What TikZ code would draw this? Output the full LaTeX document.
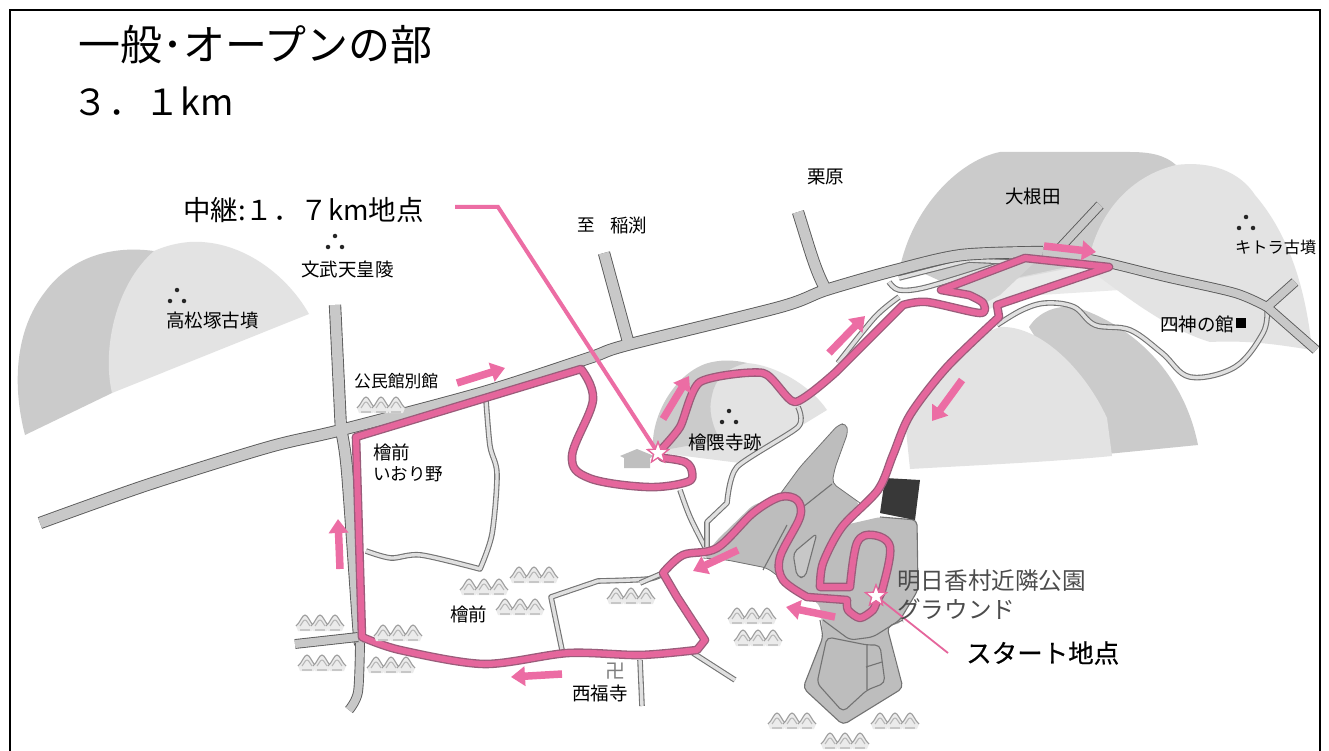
\documentclass[tikz,border=0pt]{standalone}
\usepackage{fontspec}
\setmainfont{Noto Sans CJK JP}
\newfontfamily\medfont[FakeBold=0.5]{Noto Sans CJK JP}
\usetikzlibrary{arrows.meta,shapes.geometric}
\definecolor{hilldark}{HTML}{CBCBCB}
\definecolor{hilllight}{HTML}{E3E3E3}
\definecolor{roadfill}{HTML}{C8C8C8}
\definecolor{roadedge}{HTML}{5A5A5A}
\definecolor{parkfill}{HTML}{BDBDBD}
\definecolor{rpink}{HTML}{E5669C}
\definecolor{rdark}{HTML}{9A5C7A}
\definecolor{apink}{HTML}{EC6DA4}
\tikzset{
 bigroad/.style={draw=roadedge,line width=.9pt,double=roadfill,double distance=10.5pt,line cap=butt,line join=round},
 midroad/.style={draw=roadedge,line width=.9pt,double=roadfill,double distance=8pt,line cap=butt,line join=round},
 thinroad/.style={draw=black!55,line width=1.1pt,double=black!12,double distance=3.4pt,line join=round},
 routeback/.style={draw=rdark,line width=8.6pt,line join=round,line cap=round},
 routefront/.style={draw=rpink,line width=6pt,line join=round,line cap=round},
 dirarrow/.style={draw=apink,line width=7.5pt,-{Triangle[length=14pt,width=19pt]}},
 leader/.style={draw=apink,line width=4pt},
 lbl/.style={font=\fontsize{18.5}{22}\selectfont,text=black,inner sep=0pt},
 startstar/.style={star,star points=5,star point ratio=2.4,draw=rpink,fill=white,line width=1.2pt,minimum size=22pt,inner sep=0pt},
 parkline/.style={draw=black!55,line width=1.1pt,line join=round,rounded corners=5pt},
 hs/.style={draw=black!38,line width=1.1pt},
 onedot/.style={circle,fill=black!85,minimum size=4.5pt,inner sep=0pt},
 houses/.pic={
  \foreach \d in {-15,0,15}{
   \fill[black!8] (\d-9,4) .. controls (\d-5,1) and (\d-3,-7) .. (\d,-7) .. controls (\d+3,-7) and (\d+5,1) .. (\d+9,4) -- (\d+7,9) -- (\d-7,9) -- cycle;
   \draw[hs] (\d-9,4) .. controls (\d-5,1) and (\d-3,-7) .. (\d,-7) .. controls (\d+3,-7) and (\d+5,1) .. (\d+9,4);
   \draw[hs,black!28] (\d-5,4) .. controls (\d-3,2) and (\d-2,-2) .. (\d,-2) .. controls (\d+2,-2) and (\d+3,2) .. (\d+5,4);
   \draw[hs,black!22,line width=1.8pt] (\d-5,8) -- (\d+5,8);
  }
 },
 tomb/.pic={
  \node[onedot] at (0,-6) {};
  \node[onedot] at (-7,5) {};
  \node[onedot] at (7,5) {};
 }
}
\begin{document}
\begin{tikzpicture}[x=1pt,y=-1pt]
\useasboundingbox (0,0) rectangle (1329,751);
\fill[white] (0,0) rectangle (1329,751);
% hills
\fill[hilldark] (25,435) .. controls (12,385) and (15,330) .. (45,292) .. controls (70,258) and (110,245) .. (154,251) -- (200,300) -- (112,393) -- cycle;
\fill[hilllight] (112,393) .. controls (102,350) and (115,285) .. (154,251) .. controls (172,243) and (190,241) .. (202,242) .. controls (250,245) and (290,280) .. (309,314) -- cycle;
\fill[hilldark] (901,263) .. controls (915,205) and (960,160) .. (1000,152) -- (1130,152) .. controls (1150,152) and (1165,155) .. (1176,165) -- (1110,260) -- (960,290) -- cycle;
\fill[hilllight] (1092,247) .. controls (1105,205) and (1135,175) .. (1176,165) .. controls (1200,162) and (1235,165) .. (1255,195) .. controls (1285,230) and (1305,280) .. (1312,350) .. controls (1280,345) and (1250,340) .. (1210,342) .. controls (1170,330) and (1130,300) .. (1090,270) -- cycle;
\fill[hilllight,opacity=.75] (960,290) -- (1090,262) -- (1120,290) -- (1040,295) -- (985,310) -- cycle;
\fill[hilldark] (1029,327) .. controls (1040,310) and (1060,304) .. (1078,308) .. controls (1130,325) and (1183,370) .. (1198,445) -- (1107,454) -- cycle;
\fill[hilllight] (906,430) .. controls (920,390) and (960,340) .. (1000,327) .. controls (1040,325) and (1085,370) .. (1107,418) -- (1112,456) .. controls (1050,462) and (980,465) .. (910,469) -- cycle;
\fill[hilllight] (653,452) -- (680,400) .. controls (695,372) and (725,362) .. (747,363) .. controls (775,365) and (810,385) .. (827,410) -- (740,463) -- cycle;
\fill[hilldark] (653,452) .. controls (650,415) and (675,375) .. (705,364) .. controls (720,359) and (735,360) .. (747,363) .. controls (725,368) and (715,380) .. (712,395) .. controls (708,410) and (712,425) .. (720,440) -- cycle;
% park
\fill[parkfill,rounded corners=5pt] (703,558) -- (717,540) -- (753,505) -- (778,497) -- (800,467) -- (838,425) -- (846,423) -- (848,432) -- (835,468) -- (832,483) -- (860,503) -- (845,525) -- (880,517) -- (917,520) -- (918,590) -- (900,620) -- (903,622) -- (887,627) -- (895,660) -- (903,688) -- (843,725) -- (803,688) -- (823,637) -- (820,605) -- (790,585) -- (767,568) -- (727,560) -- cycle;
\draw[parkline] (880,517) -- (917,520) -- (918,590) -- (900,620) -- (873,637) -- (850,640) -- (823,620);
\draw[parkline,line width=.8pt] (703,558) -- (727,560) -- (767,568) -- (790,585);
\draw[parkline,line width=.8pt] (778,497) -- (800,467) -- (838,425) -- (846,423) -- (848,432) -- (835,468) -- (832,483) -- (860,503);
\draw[parkline] (832,484) -- (803,507) (787,525) -- (763,570);
\draw[parkline,fill=parkfill!85!white] (817,533) -- (793,553) -- (797,577) -- (805,578) -- cycle;
\draw[parkline] (820,620) -- (823,637) -- (803,688) -- (843,725) -- (903,688) -- (887,627) -- (903,620);
\draw[parkline] (827,637) -- (817,683) -- (843,712) -- (867,690) -- (885,683) -- (880,645) -- (867,645) -- cycle;
\draw[parkline,rounded corners=0pt] (867,645) -- (867,690) (866,667) -- (882,662);
\fill[black!78] (885,478) -- (920,480) -- (915,520) -- (880,513) -- cycle;
% thin roads
\draw[thinroad] plot[smooth,tension=.5] coordinates {(486,400) (490,446) (497,474) (492,534) (480,569)} -- plot[smooth,tension=.5] coordinates {(480,569) (421,555) (391,558) (366,551)};
\draw[thinroad] plot[smooth,tension=.5] coordinates {(664,573) (648,579) (598,581)} -- (551,597) -- (562,650);
\draw[thinroad] plot[smooth,tension=.6] coordinates {(680,490) (690,517) (705,547)};
\draw[thinroad] plot[smooth,tension=.4] coordinates {(798,407) (798,427) (737,467) (727,503)} -- (707,522) -- (707,547);
\draw[thinroad] (693,653) -- (735,680);
\draw[thinroad] (640,660) -- (642,706);
\draw[thinroad] (640,583) -- (663,573);
\draw[thinroad] plot[smooth,tension=.6] coordinates {(997,325) (1022,310) (1046,303) (1074,307) (1095,325) (1130,330) (1162,353) (1190,377) (1235,367) (1263,333) (1267,310)};
\draw[thinroad] plot[smooth,tension=.5] coordinates {(838,363) (875,317) (899,297)};
\draw[thinroad] plot[smooth,tension=.5] coordinates {(889,282) (899,290) (927,287) (1008,262)};
\draw[thinroad] (899,278) -- (969,260) -- (1011,262);
\fill[hilldark!85!white] (941,290) -- (1025,258) -- (1035,262) -- (1000,295) -- (985,303) -- cycle;
% main roads
\draw[bigroad] plot[smooth,tension=.5] coordinates {(40,523) (147,485) (269,447) (341,430) (484,392) (589,358) (627,345) (780,307) (826,290) (896,270) (962,255) (1043,252)}
 (604,253) -- (629,345)
 (798,212) .. controls (810,250) and (815,270) .. (826,290)
 (335,305) -- (341,430)
 plot[smooth,tension=.5] coordinates {(341,430) (347,470) (358,622) (360,643)};
\draw[midroad] plot[smooth,tension=.5] coordinates {(1043,252) (1095,260) (1165,277) (1235,293) (1267,307)}
 (1100,205) -- (1058,250)
 (1295,282) -- (1267,307) -- (1316,350);
\draw[midroad] (295,644) -- (358,637)
 plot[smooth,tension=.5] coordinates {(360,643) (358,692) (349,710)};
% route
\def\routepath{plot[smooth,tension=.45] coordinates {(877,600) (873,610) (860,618) (848,610) (847,600)} -- (807,597) -- plot[smooth,tension=.55] coordinates {(807,597) (783,580) (780,557) (800,517) (797,500) (780,497) (753,513) (717,548) (683,555) (663,573)} -- (677,597) -- (705,640) -- (697,650) -- plot[smooth,tension=.5] coordinates {(697,650) (640,655) (568,653) (484,664) (400,650) (362,637)} -- (356,437) -- (581,369) -- plot[smooth,tension=.6] coordinates {(581,369) (593,400) (572,456) (589,478) (647,487) (687,482) (692,472) (685,462) (663,458)} -- (658,453) -- plot[smooth,tension=.4] coordinates {(658,453) (680,427) (700,382) (763,373) (795,402) (836,372)} -- (903,305) -- plot[smooth,tension=.5] coordinates {(903,305) (927,302) (980,313) (983,303) (969,295)} -- (941,290) -- (1025,258) -- (1109,267) -- (997,305) -- (999,317) -- plot[smooth,tension=.5] coordinates {(999,317) (947,367) (910,415) (893,455) (878,490) (842,527) (823,563) (820,587)} -- (850,587) -- plot[smooth,tension=.6] coordinates {(850,587) (857,543) (873,535) (890,547) (883,587) (877,600)}}
\draw[routeback] \routepath;
\draw[routefront] \routepath;
% houses
\foreach \hx/\hy in {381/404,484/586,534/574,520/606,631/595,320/622,322/662,398/632,391/664,752/615,758/637,792/720,895/720,845/740}
 \pic at (\hx,\hy) {houses};
% temple
\fill[black!25] (620,456) -- (637,449) -- (654,456) -- (650,458) -- (650,468) -- (624,468) -- (624,458) -- cycle;
% tomb dots
\pic at (335,242) {tomb};
\pic at (177,296) {tomb};
\pic at (729,417) {tomb};
\pic at (1246,223) {tomb};
% direction arrows
\draw[dirarrow] (457,383) -- (505,368);
\draw[dirarrow] (340,569) -- (338,519);
\draw[dirarrow] (562,674) -- (511,677);
\draw[dirarrow] (663,419) -- (689,376);
\draw[dirarrow] (829,353) -- (865,316);
\draw[dirarrow] (1044,246) -- (1096,252);
\draw[dirarrow] (962,380) -- (932,421);
\draw[dirarrow] (738,550) -- (693,571);
\draw[dirarrow] (835,617) -- (786,607);
% stars and leaders
\coordinate (relayfree) at (455,207);
\coordinate (relaybend) at (498,207);
\coordinate (startfree) at (948,653);
\node[startstar] (relaystar) at (658,453) {};
\node[startstar] (startstar) at (876,596) {};
\draw[leader] (relayfree) -- (relaybend) -- (relaystar.center);
\draw[draw=rpink,line width=1.8pt] (startstar.center) -- (startfree);
\node[startstar] at (relaystar) {};
\node[startstar] at (startstar) {};
% texts
\node[anchor=west,inner sep=0pt,font=\fontsize{42}{46}\selectfont] (title) at (78,45) {一般･オープンの部};
\node[anchor=west,inner sep=0pt,font=\fontsize{36}{42}\selectfont] (dist) at (72,101) {３．１km};
\node[anchor=west,inner sep=0pt,font=\fontsize{27.5}{32}\selectfont] (relay) at (183,210) {中継:１．７km地点};
\node[lbl,anchor=west] (l1) at (301,269) {文武天皇陵};
\node[lbl,anchor=west] (l2) at (166,320) {高松塚古墳};
\node[lbl,anchor=west,font=\fontsize{16.8}{20}\selectfont] (l3) at (354,381) {公民館別館};
\node[lbl,anchor=west] (l4) at (373,452) {檜前};
\node[lbl,anchor=west,font=\fontsize{17.5}{20}\selectfont] (l5) at (373,474) {いおり野};
\node[lbl,anchor=west] (l6) at (450,614) {檜前};
\node[lbl,anchor=west] (l7) at (572,693) {西福寺};
\node[lbl,anchor=west] (l8) at (688,443) {檜隈寺跡};
\node[lbl,anchor=west,font=\fontsize{17.5}{20}\selectfont] (l9) at (577,225) {至};
\node[lbl,anchor=west] (l10) at (610,225) {稲渕};
\node[lbl,anchor=west] (l11) at (807,177) {栗原};
\node[lbl,anchor=west] (l12) at (1005,196) {大根田};
\node[lbl,anchor=west,font=\fontsize{16.2}{20}\selectfont] (l13) at (1235,247) {キトラ古墳};
\node[lbl,anchor=west] (l14) at (1160,324) {四神の館};
\node[anchor=center,inner sep=0pt,minimum size=10pt,fill=black] (l15) at (1241,323) {};
\node[lbl,anchor=west,text=black!70,font=\fontsize{23.6}{28}\selectfont] (l16) at (897,581) {明日香村近隣公園};
\node[lbl,anchor=west,text=black!70,font=\fontsize{23.6}{28}\selectfont] (l17) at (897,609) {グラウンド};
\node[lbl,anchor=west,font=\fontsize{25.5}{30}\medfont] (l18) at (966,653) {スタート地点};
\node[lbl,text=black!50,font=\fontsize{20}{24}\selectfont] (l19) at (615,671) {卍};
% frame
\draw[black,line width=2.2pt] (10,751) -- (10,10) -- (1320,10) -- (1320,751);
\end{tikzpicture}
\end{document}
